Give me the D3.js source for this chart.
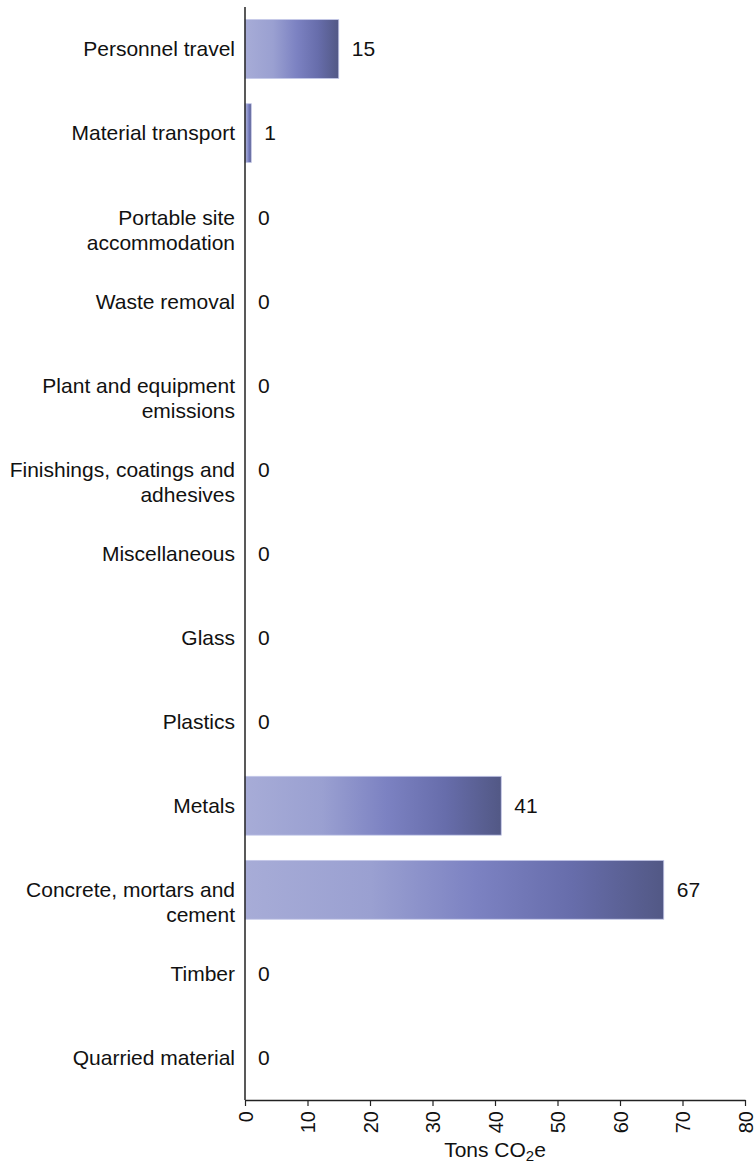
<!DOCTYPE html>
<html>
<head>
<meta charset="utf-8">
<script src="https://cdn.jsdelivr.net/npm/d3@7"></script>
<style>
  html, body { margin: 0; padding: 0; background: #fff; }
  svg { display: block; font-family: "Liberation Sans", Arial, sans-serif; }
</style>
</head>
<body>
<svg id="chart" width="755" height="1167"></svg>
<script>
// Emission sources (top to bottom), each split into display lines
const categories = [
  "Personnel travel",
  "Material transport",
  "Portable site accommodation",
  "Waste removal",
  "Plant and equipment emissions",
  "Finishings, coatings and adhesives",
  "Miscellaneous",
  "Glass",
  "Plastics",
  "Metals",
  "Concrete, mortars and cement",
  "Timber",
  "Quarried material"
];
const labelLines = [
  ["Personnel travel"],
  ["Material transport"],
  ["Portable site", "accommodation"],
  ["Waste removal"],
  ["Plant and equipment", "emissions"],
  ["Finishings, coatings and", "adhesives"],
  ["Miscellaneous"],
  ["Glass"],
  ["Plastics"],
  ["Metals"],
  ["Concrete, mortars and", "cement"],
  ["Timber"],
  ["Quarried material"]
];
// Tons CO2e per source
const values = [15, 1, 0, 0, 0, 0, 0, 0, 0, 41, 67, 0, 0];
const xTicks = [0, 10, 20, 30, 40, 50, 60, 70, 80];

const svg = d3.select("#chart");
const plotLeft = 245, plotRight = 745, plotTop = 7, plotBottom = 1100;

const x = d3.scaleLinear().domain([0, 80]).range([plotLeft, plotRight]);
const y = d3.scaleBand().domain(categories).range([plotTop, plotBottom])
  .paddingInner(0.3).paddingOuter(0.15);

// Horizontal shading used on every bar
const defs = svg.append("defs");
const grad = defs.append("linearGradient").attr("id", "barShade")
  .attr("x1", "0%").attr("x2", "100%").attr("y1", "0%").attr("y2", "0%");
[[0, "#a7acd7"], [0.3, "#9aa0d1"], [0.55, "#7c82c2"], [0.78, "#676dab"], [1, "#525885"]]
  .forEach(([o, c]) => grad.append("stop").attr("offset", o).attr("stop-color", c));

// Bars
svg.append("g").selectAll("rect")
  .data(categories.filter((c, i) => values[i] > 0))
  .join("rect")
  .attr("x", x(0))
  .attr("y", d => y(d))
  .attr("width", d => x(values[categories.indexOf(d)]) - x(0))
  .attr("height", y.bandwidth())
  .attr("fill", "url(#barShade)")
  .attr("stroke", "#c3c7e8")
  .attr("stroke-width", 0.8);

// Value labels
svg.append("g").selectAll("text")
  .data(categories)
  .join("text")
  .attr("x", (d, i) => x(values[i]) + 13)
  .attr("y", d => y(d) + y.bandwidth() / 2)
  .attr("dy", "0.35em")
  .attr("font-size", 21)
  .attr("fill", "#111")
  .text((d, i) => values[i]);

// Category labels: first line on the band centre, further lines below
const catG = svg.append("g");
categories.forEach((c, i) => {
  const t = catG.append("text")
    .attr("text-anchor", "end")
    .attr("font-size", 21)
    .attr("fill", "#111");
  labelLines[i].forEach((line, j) => {
    t.append("tspan")
      .attr("x", plotLeft - 10)
      .attr("y", y(c) + y.bandwidth() / 2 + j * 25)
      .attr("dy", "0.35em")
      .text(line);
  });
});

// Vertical category axis line
svg.append("line")
  .attr("x1", x(0)).attr("x2", x(0))
  .attr("y1", plotTop).attr("y2", plotBottom)
  .attr("stroke", "#222").attr("stroke-width", 1.5);

// Value axis
const xAxis = svg.append("g")
  .attr("transform", `translate(0,${plotBottom})`)
  .call(d3.axisBottom(x).tickValues(xTicks).tickSize(6).tickSizeOuter(0));
xAxis.select(".domain").attr("stroke", "#222").attr("stroke-width", 1.5);
xAxis.selectAll(".tick line").attr("stroke", "#222").attr("stroke-width", 1.2);
xAxis.selectAll(".tick text")
  .attr("font-size", 20)
  .attr("font-family", "Liberation Sans, Arial, sans-serif")
  .attr("fill", "#111")
  .attr("text-anchor", "end")
  .attr("transform", "rotate(-90)")
  .attr("x", -11)
  .attr("y", 0)
  .attr("dy", "0.35em");

// Axis title with subscript
const title = svg.append("text")
  .attr("x", (plotLeft + plotRight) / 2)
  .attr("y", 1157)
  .attr("text-anchor", "middle")
  .attr("font-size", 21)
  .attr("fill", "#111");
title.append("tspan").text("Tons CO");
title.append("tspan").attr("font-size", 15).attr("dy", 4).text("2");
title.append("tspan").attr("dy", -4).text("e");
</script>
</body>
</html>
